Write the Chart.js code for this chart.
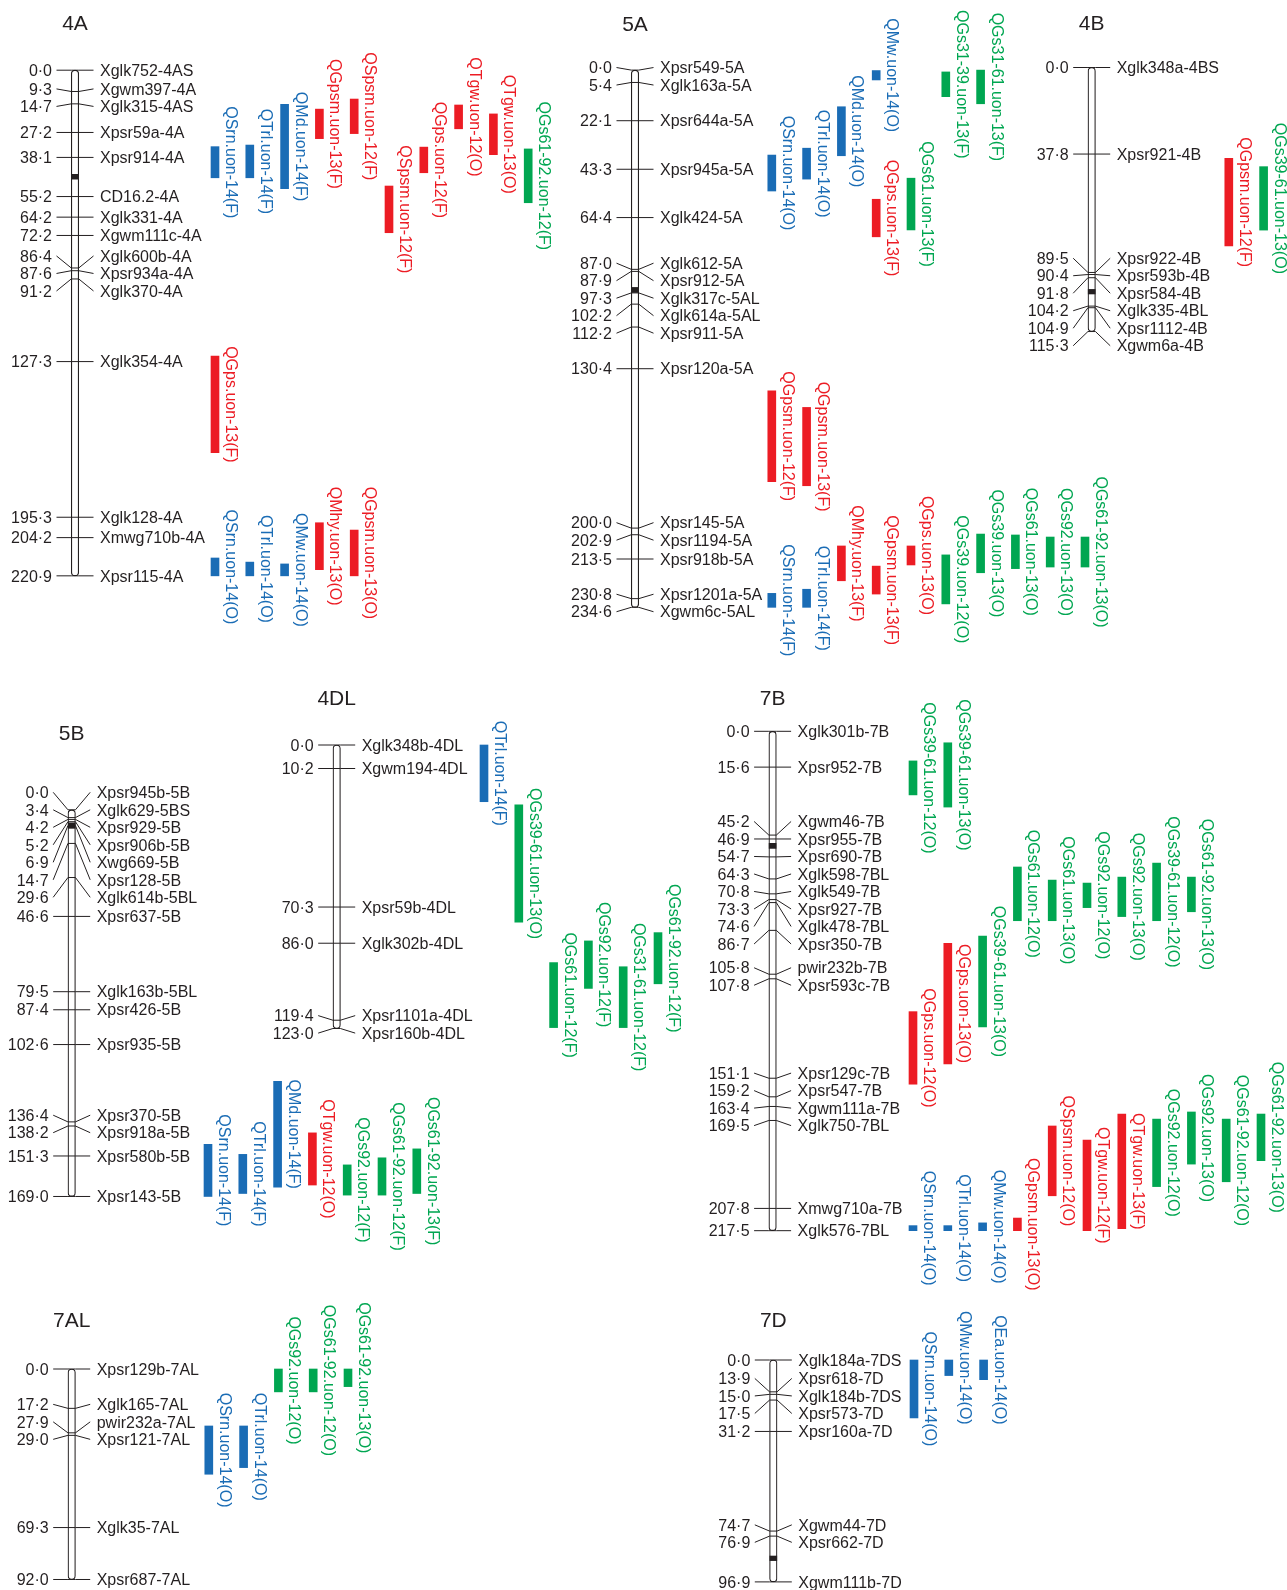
<!DOCTYPE html>
<html>
<head>
<meta charset="utf-8">
<title>QTL linkage maps</title>
<script src="https://cdn.jsdelivr.net/npm/chart.js@4.4.1/dist/chart.umd.min.js"></script>
<style>
  html, body { margin: 0; padding: 0; background: #ffffff; }
  #page { position: relative; width: 1287px; height: 1590px; overflow: hidden; }
  #page canvas { position: absolute; left: 0; top: 0; }
</style>
</head>
<body>
<div id="page"></div>
<script>
// ---------------------------------------------------------------
// Linkage group data: marker names, map positions (cM), centromere
// interval (cM) and QTL confidence intervals (cM).
// ---------------------------------------------------------------

// 4A
const markers4A = ['Xglk752-4AS','Xgwm397-4A','Xglk315-4AS','Xpsr59a-4A','Xpsr914-4A','CD16.2-4A','Xglk331-4A','Xgwm111c-4A','Xglk600b-4A','Xpsr934a-4A','Xglk370-4A','Xglk354-4A','Xglk128-4A','Xmwg710b-4A','Xpsr115-4A'];
const pos4A = [0.0, 9.3, 14.7, 27.2, 38.1, 55.2, 64.2, 72.2, 86.4, 87.6, 91.2, 127.3, 195.3, 204.2, 220.9];
const cen4A = [45.5, 47.6];
const qtl4A = ['QSrn.uon-14(F)','QTrl.uon-14(F)','QMd.uon-14(F)','QGpsm.uon-13(F)','QSpsm.uon-12(F)','QSpsm.uon-12(F)','QGps.uon-12(F)','QTgw.uon-12(O)','QTgw.uon-13(O)','QGs61-92.uon-12(F)','QGps.uon-13(F)','QSrn.uon-14(O)','QTrl.uon-14(O)','QMw.uon-14(O)','QMhy.uon-13(O)','QGpsm.uon-13(O)'];
const from4A = [33.4, 32.7, 14.9, 17.0, 12.6, 50.6, 33.6, 15.2, 19.1, 34.4, 124.9, 213.1, 214.9, 215.7, 197.7, 200.9];
const to4A   = [47.0, 47.0, 51.8, 29.9, 27.7, 71.0, 44.8, 25.6, 36.9, 57.9, 167.1, 220.9, 220.9, 220.9, 218.2, 220.9];

// 5A
const markers5A = ['Xpsr549-5A','Xglk163a-5A','Xpsr644a-5A','Xpsr945a-5A','Xglk424-5A','Xglk612-5A','Xpsr912-5A','Xglk317c-5AL','Xglk614a-5AL','Xpsr911-5A','Xpsr120a-5A','Xpsr145-5A','Xpsr1194-5A','Xpsr918b-5A','Xpsr1201a-5A','Xgwm6c-5AL'];
const pos5A = [0.0, 5.4, 22.1, 43.3, 64.4, 87.0, 87.9, 97.3, 102.2, 112.2, 130.4, 200.0, 202.9, 213.5, 230.8, 234.6];
const cen5A = [94.9, 97.1];
const qtl5A = ['QSrn.uon-14(O)','QTrl.uon-14(O)','QMd.uon-14(O)','QMw.uon-14(O)','QGps.uon-13(F)','QGs61.uon-13(F)','QGs31-39.uon-13(F)','QGs31-61.uon-13(F)','QGpsm.uon-12(F)','QGpsm.uon-13(F)','QSrn.uon-14(F)','QTrl.uon-14(F)','QMhy.uon-13(F)','QGpsm.uon-13(F)','QGps.uon-13(O)','QGs39.uon-12(O)','QGs39.uon-13(O)','QGs61.uon-13(O)','QGs92.uon-13(O)','QGs61-92.uon-13(O)'];
const from5A = [37.1, 34.1, 16.0, 0.2, 56.4, 47.2, 0.8, 0.0, 140.1, 147.3, 228.5, 226.7, 207.8, 216.6, 207.8, 211.7, 202.6, 203.0, 203.9, 203.9];
const to5A   = [52.8, 47.6, 37.4, 4.3, 72.8, 69.8, 11.6, 14.7, 179.7, 181.5, 234.6, 234.6, 223.0, 228.8, 216.1, 233.1, 219.5, 217.7, 217.0, 217.0];

// 4B
const markers4B = ['Xglk348a-4BS','Xpsr921-4B','Xpsr922-4B','Xpsr593b-4B','Xpsr584-4B','Xglk335-4BL','Xpsr1112-4B','Xgwm6a-4B'];
const pos4B = [0.0, 37.8, 89.5, 90.4, 91.8, 104.2, 104.9, 115.3];
const cen4B = [96.9, 98.9];
const qtl4B = ['QGpsm.uon-12(F)','QGs39-61.uon-13(O)'];
const from4B = [39.7, 43.3];
const to4B   = [77.9, 71.0];

// 5B
const markers5B = ['Xpsr945b-5B','Xglk629-5BS','Xpsr929-5B','Xpsr906b-5B','Xwg669-5B','Xpsr128-5B','Xglk614b-5BL','Xpsr637-5B','Xglk163b-5BL','Xpsr426-5B','Xpsr935-5B','Xpsr370-5B','Xpsr918a-5B','Xpsr580b-5B','Xpsr143-5B'];
const pos5B = [0.0, 3.4, 4.2, 5.2, 6.9, 14.7, 29.6, 46.6, 79.5, 87.4, 102.6, 136.4, 138.2, 151.3, 169.0];
const cen5B = [5.7, 8.1];
const qtl5B = ['QSrn.uon-14(F)','QTrl.uon-14(F)','QMd.uon-14(F)','QTgw.uon-12(O)','QGs92.uon-12(F)','QGs61-92.uon-12(F)','QGs61-92.uon-13(F)'];
const from5B = [146.2, 150.6, 118.7, 141.2, 155.2, 152.1, 148.2];
const to5B   = [169.0, 167.7, 164.9, 164.0, 168.4, 168.4, 167.7];

// 4DL
const markers4DL = ['Xglk348b-4DL','Xgwm194-4DL','Xpsr59b-4DL','Xglk302b-4DL','Xpsr1101a-4DL','Xpsr160b-4DL'];
const pos4DL = [0.0, 10.2, 70.3, 86.0, 119.4, 123.0];
const cen4DL = null;
const qtl4DL = ['QTrl.uon-14(F)','QGs39-61.uon-13(O)','QGs61.uon-12(F)','QGs92.uon-12(F)','QGs31-61.uon-12(F)','QGs61-92.uon-12(F)'];
const from4DL = [0.0, 26.0, 94.4, 85.0, 96.2, 81.4];
const to4DL   = [24.6, 76.9, 122.6, 105.6, 122.6, 103.6];

// 7B
const markers7B = ['Xglk301b-7B','Xpsr952-7B','Xgwm46-7B','Xpsr955-7B','Xpsr690-7B','Xglk598-7BL','Xglk549-7B','Xpsr927-7B','Xglk478-7BL','Xpsr350-7B','pwir232b-7B','Xpsr593c-7B','Xpsr129c-7B','Xpsr547-7B','Xgwm111a-7B','Xglk750-7BL','Xmwg710a-7B','Xglk576-7BL'];
const pos7B = [0.0, 15.6, 45.2, 46.9, 54.7, 64.3, 70.8, 73.3, 74.6, 86.7, 105.8, 107.8, 151.1, 159.2, 163.4, 169.5, 207.8, 217.5];
const cen7B = [48.8, 51.0];
const qtl7B = ['QGs39-61.uon-12(O)','QGs39-61.uon-13(O)','QGps.uon-12(O)','QGps.uon-13(O)','QGs39-61.uon-13(O)','QGs61.uon-12(O)','QGs61.uon-13(O)','QGs92.uon-12(O)','QGs92.uon-13(O)','QGs39-61.uon-12(O)','QGs61-92.uon-13(O)','QSrn.uon-14(O)','QTrl.uon-14(O)','QMw.uon-14(O)','QGpsm.uon-13(O)','QSpsm.uon-12(O)','QTgw.uon-12(F)','QTgw.uon-13(F)','QGs92.uon-12(O)','QGs92.uon-13(O)','QGs61-92.uon-12(O)','QGs61-92.uon-13(O)'];
const from7B = [12.9, 5.0, 122.1, 92.3, 89.2, 59.1, 64.8, 66.1, 63.5, 57.4, 63.5, 215.3, 215.3, 214.1, 212.0, 171.9, 178.0, 166.7, 168.9, 165.8, 168.9, 166.7];
const to7B   = [27.7, 33.0, 153.7, 144.9, 128.7, 82.5, 82.5, 76.8, 80.7, 82.5, 78.6, 217.5, 217.5, 217.5, 217.5, 202.3, 217.5, 216.6, 198.3, 188.5, 196.2, 187.0];

// 7AL
const markers7AL = ['Xpsr129b-7AL','Xglk165-7AL','pwir232a-7AL','Xpsr121-7AL','Xglk35-7AL','Xpsr687-7AL'];
const pos7AL = [0.0, 17.2, 27.9, 29.0, 69.3, 92.0];
const cen7AL = null;
const qtl7AL = ['QSrn.uon-14(O)','QTrl.uon-14(O)','QGs92.uon-12(O)','QGs61-92.uon-12(O)','QGs61-92.uon-13(O)'];
const from7AL = [24.9, 24.9, 0.0, 0.0, 0.0];
const to7AL   = [46.0, 43.1, 10.0, 10.0, 7.7];

// 7D
const markers7D = ['Xglk184a-7DS','Xpsr618-7D','Xglk184b-7DS','Xpsr573-7D','Xpsr160a-7D','Xgwm44-7D','Xpsr662-7D','Xgwm111b-7D'];
const pos7D = [0.0, 13.9, 15.0, 17.5, 31.2, 74.7, 76.9, 96.9];
const cen7D = [85.6, 87.6];
const qtl7D = ['QSrn.uon-14(O)','QMw.uon-14(O)','QEa.uon-14(O)'];
const from7D = [0.0, 0.0, 0.0];
const to7D   = [25.3, 6.8, 8.6];

// ---------------------------------------------------------------
// Page layout: chromosome axis x, first QTL track x, pixel of 0 cM,
// pixels per cM, title baseline and the track each QTL sits in.
// ---------------------------------------------------------------
const W = 1287, H = 1590;
const TRACK_GAP = 34.8;      // px between QTL tracks
const RIGHT_EDGE = 1282;     // right end of every x scale
const layout = {
  '4A':  { cx: 75,     lane0: 215,    y0: 70.2,  k: 2.289, titleY: 30,
           tracks: [0,1,2,3,4,5,6,7,8,9,0,0,1,2,3,4] },
  '5A':  { cx: 635,    lane0: 771.8,  y0: 70.1,  k: 2.290, titleY: 30.5,
           tracks: [0,1,2,3,3,4,5,6,0,1,0,1,2,3,4,5,6,7,8,9] },
  '4B':  { cx: 1091.7, lane0: 1228.8, y0: 67.5,  k: 2.290, titleY: 30,
           tracks: [0,1] },
  '5B':  { cx: 71.7,   lane0: 208,    y0: 809.8, k: 2.288, titleY: 740,
           tracks: [0,1,2,3,4,5,6] },
  '4DL': { cx: 336.7,  lane0: 484,    y0: 745,   k: 2.305, titleY: 705,
           tracks: [0,1,2,3,4,5] },
  '7B':  { cx: 772.6,  lane0: 913,    y0: 731.3, k: 2.296, titleY: 705,
           tracks: [0,1,0,1,2,3,4,5,6,7,8,0,1,2,3,4,5,6,7,8,9,10] },
  '7AL': { cx: 71.7,   lane0: 208.8,  y0: 1369,  k: 2.288, titleY: 1326.7,
           tracks: [0,1,2,3,4] },
  '7D':  { cx: 773.3,  lane0: 914,    y0: 1360,  k: 2.290, titleY: 1326.7,
           tracks: [0,1,2] }
};

const groups = [
  { name: '4A',  markers: markers4A,  pos: pos4A,  cen: cen4A,  qtl: qtl4A,  from: from4A,  to: to4A },
  { name: '5A',  markers: markers5A,  pos: pos5A,  cen: cen5A,  qtl: qtl5A,  from: from5A,  to: to5A },
  { name: '4B',  markers: markers4B,  pos: pos4B,  cen: cen4B,  qtl: qtl4B,  from: from4B,  to: to4B },
  { name: '5B',  markers: markers5B,  pos: pos5B,  cen: cen5B,  qtl: qtl5B,  from: from5B,  to: to5B },
  { name: '4DL', markers: markers4DL, pos: pos4DL, cen: cen4DL, qtl: qtl4DL, from: from4DL, to: to4DL },
  { name: '7B',  markers: markers7B,  pos: pos7B,  cen: cen7B,  qtl: qtl7B,  from: from7B,  to: to7B },
  { name: '7AL', markers: markers7AL, pos: pos7AL, cen: cen7AL, qtl: qtl7AL, from: from7AL, to: to7AL },
  { name: '7D',  markers: markers7D,  pos: pos7D,  cen: cen7D,  qtl: qtl7D,  from: from7D,  to: to7D }
];

// ---------------------------------------------------------------
// Styling
// ---------------------------------------------------------------
const INK = '#231f20';
const BLUE = '#1a6cb5';
const RED = '#ec1c24';
const GREEN = '#00a651';
const FONT = '"Liberation Sans", Arial, Helvetica, sans-serif';
const LABEL_PX = 16;
const TITLE_PX = 21;
const LABEL_GAP = 17.5;     // minimum vertical spacing of marker labels
const TICK_HALF = 18.5;     // half length of a marker tick
const CHROM_W = 7.5;        // chromosome bar width
const QTL_W = 8;            // QTL bar width

// Trait colour follows the QTL trait code
function traitColour(name) {
  if (/^QGs/.test(name)) return GREEN;
  if (/^Q(Srn|Trl|Md|Mw|Ea)\./.test(name)) return BLUE;
  return RED;
}

function cM(v) { return v.toFixed(1).replace('.', '\u00b7'); }

// Crowded marker labels are gathered into runs; each run is spaced
// `gap` apart and centred on the middle of its markers' span.  Runs
// that still collide are merged.  No label goes above `top`.
function spreadLabels(ys, gap, top) {
  let runs = ys.map((y, i) => ({ a: i, b: i }));
  const firstY = r => (ys[r.a] + ys[r.b]) / 2 - (r.b - r.a) * gap / 2;
  let merged = true;
  while (merged) {
    merged = false;
    for (let j = 0; j + 1 < runs.length; j++) {
      const r = runs[j], s = runs[j + 1];
      if (firstY(r) + (r.b - r.a + 1) * gap > firstY(s) + 1e-6) {
        runs.splice(j, 2, { a: r.a, b: s.b });
        merged = true;
        break;
      }
    }
  }
  const out = [];
  runs.forEach(r => {
    const y = firstY(r);
    for (let i = r.a; i <= r.b; i++) out.push(y + (i - r.a) * gap);
  });
  for (let i = 0; i < out.length; i++) {
    out[i] = Math.max(out[i], i ? out[i - 1] + gap : top);
  }
  return out;
}

// Draws marker ticks, positions, names, QTL names and the group title
function mapDecorations(group, lay) {
  return {
    id: 'mapDecorations',
    afterDatasetsDraw(chart) {
      const ctx = chart.ctx;
      const xs = chart.scales.x, ys = chart.scales.y;
      const chromTrack = xs.min;
      const cx = xs.getPixelForValue(chromTrack);
      const half = CHROM_W / 2;
      const capShift = 0.358 * LABEL_PX;

      const markerY = group.pos.map(p => ys.getPixelForValue(p));
      const labelY = spreadLabels(markerY, LABEL_GAP, markerY[0] - LABEL_GAP);

      ctx.save();
      ctx.strokeStyle = INK;
      ctx.lineWidth = 1;
      ctx.fillStyle = INK;
      ctx.font = LABEL_PX + 'px ' + FONT;
      ctx.textBaseline = 'alphabetic';
      group.pos.forEach((p, i) => {
        const my = markerY[i], ly = labelY[i];
        ctx.beginPath();
        ctx.moveTo(cx - TICK_HALF, ly);
        ctx.lineTo(cx - half, my);
        ctx.lineTo(cx + half, my);
        ctx.lineTo(cx + TICK_HALF, ly);
        ctx.stroke();
        ctx.textAlign = 'right';
        ctx.fillText(cM(p), cx - 23, ly + capShift);
        ctx.textAlign = 'left';
        ctx.fillText(group.markers[i], cx + 25, ly + capShift);
      });

      // QTL names, rotated to read downwards beside each bar
      group.qtl.forEach((name, i) => {
        const x = xs.getPixelForValue(lay.tracks[i]);
        const yc = (ys.getPixelForValue(group.from[i]) + ys.getPixelForValue(group.to[i])) / 2;
        ctx.save();
        ctx.translate(x + 11, yc);
        ctx.rotate(Math.PI / 2);
        ctx.fillStyle = traitColour(name);
        ctx.textAlign = 'center';
        ctx.textBaseline = 'alphabetic';
        ctx.fillText(name, 0, 0);
        ctx.restore();
      });

      // Group title
      ctx.font = TITLE_PX + 'px ' + FONT;
      ctx.textAlign = 'center';
      ctx.fillStyle = INK;
      ctx.fillText(group.name, cx, lay.titleY);
      ctx.restore();
    }
  };
}

const page = document.getElementById('page');

groups.forEach(group => {
  const lay = layout[group.name];
  const len = group.pos[group.pos.length - 1];
  const yEnd = lay.y0 + len * lay.k;
  const chromTrack = (lay.cx - lay.lane0) / TRACK_GAP;
  const lastTrack = (RIGHT_EDGE - lay.lane0) / TRACK_GAP;

  const canvas = document.createElement('canvas');
  canvas.width = W;
  canvas.height = H;
  page.appendChild(canvas);

  const datasets = [
    {
      label: 'chromosome',
      data: [{ x: chromTrack, y: [0, len] }],
      backgroundColor: '#ffffff',
      borderColor: INK,
      borderWidth: 1.2,
      borderRadius: CHROM_W / 2,
      borderSkipped: false,
      barThickness: CHROM_W,
      order: 3,
      clip: false
    },
    {
      label: 'centromere',
      data: group.cen ? [{ x: chromTrack, y: group.cen }] : [],
      backgroundColor: INK,
      borderWidth: 0,
      barThickness: CHROM_W - 0.5,
      order: 2,
      clip: false
    },
    {
      label: 'QTL',
      data: group.qtl.map((n, i) => ({ x: lay.tracks[i], y: [group.from[i], group.to[i]] })),
      backgroundColor: group.qtl.map(traitColour),
      borderWidth: 0,
      barThickness: QTL_W,
      order: 1,
      clip: false
    }
  ];

  new Chart(canvas, {
    type: 'bar',
    data: { datasets },
    options: {
      responsive: false,
      animation: false,
      devicePixelRatio: 1,
      events: [],
      layout: {
        padding: { left: lay.cx, right: W - RIGHT_EDGE, top: lay.y0, bottom: H - yEnd }
      },
      datasets: { bar: { grouped: false } },
      scales: {
        x: { type: 'linear', display: false, offset: false, bounds: 'data',
             min: chromTrack, max: lastTrack },
        y: { type: 'linear', display: false, reverse: true, bounds: 'data',
             min: 0, max: len }
      },
      plugins: {
        legend: { display: false },
        tooltip: { enabled: false },
        title: { display: false }
      }
    },
    plugins: [mapDecorations(group, lay)]
  });
});
</script>
</body>
</html>
